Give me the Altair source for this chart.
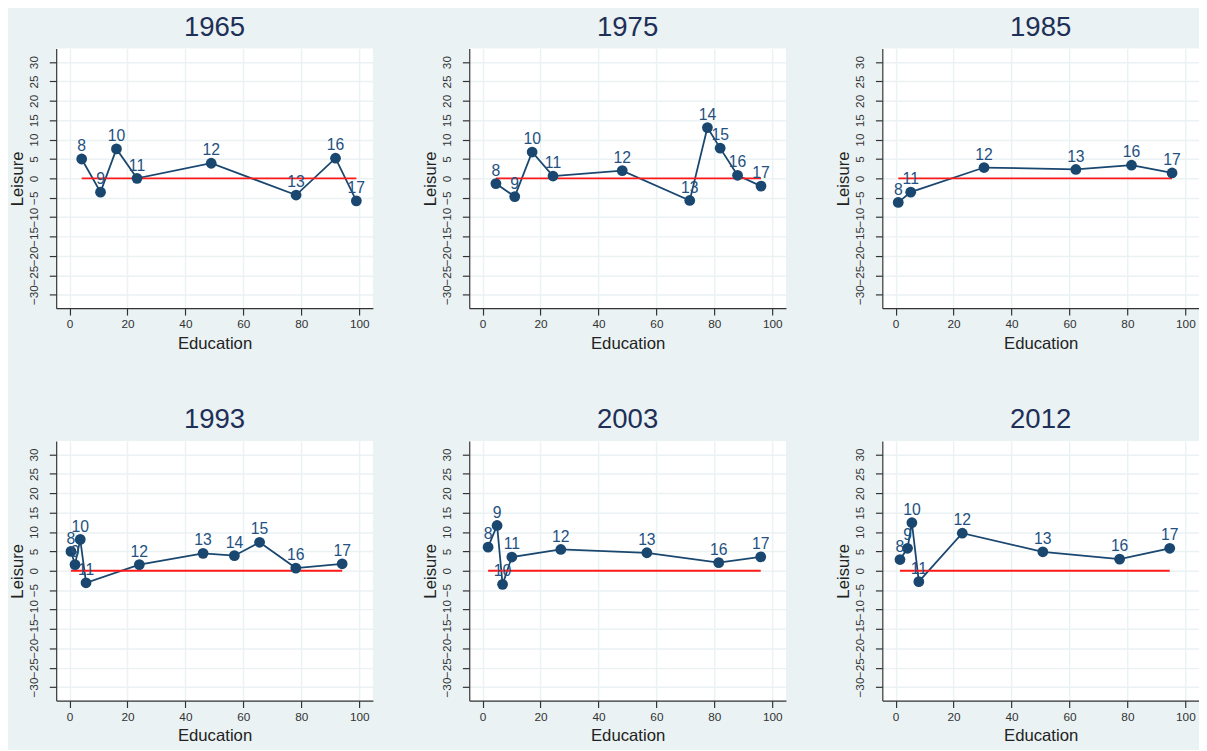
import altair as alt
import pandas as pd

years = ["1965", "1975", "1985", "1993", "2003", "2012"]

grades_1965 = [8, 9, 10, 11, 12, 13, 16, 17]
edu_1965 = [4.2, 10.7, 16.2, 23.3, 48.9, 78.2, 91.8, 99.0]
leis_1965 = [5.0, -3.55, 7.6, 0.0, 3.9, -4.3, 5.2, -5.8]

grades_1975 = [8, 9, 10, 11, 12, 13, 14, 15, 16, 17]
edu_1975 = [4.6, 11.1, 17.1, 24.3, 48.2, 71.5, 77.6, 82.0, 88.0, 96.1]
leis_1975 = [-1.35, -4.7, 6.8, 0.6, 2.0, -5.7, 13.1, 7.8, 0.8, -2.0]

grades_1985 = [8, 11, 12, 13, 16, 17]
edu_1985 = [0.9, 5.2, 30.5, 62.2, 81.4, 95.4]
leis_1985 = [-6.2, -3.55, 2.8, 2.3, 3.4, 1.4]

grades_1993 = [8, 9, 10, 11, 12, 13, 14, 15, 16, 17]
edu_1993 = [0.5, 1.9, 3.7, 5.7, 24.1, 46.1, 56.9, 65.6, 78.1, 94.1]
leis_1993 = [5.0, 1.6, 8.1, -3.1, 1.6, 4.5, 3.9, 7.35, 0.7, 1.8]

grades_2003 = [8, 9, 10, 11, 12, 13, 16, 17]
edu_2003 = [1.9, 5.0, 6.9, 10.1, 27.0, 56.7, 81.5, 96.0]
leis_2003 = [6.1, 11.7, -3.5, 3.55, 5.5, 4.65, 2.1, 3.6]

grades_2012 = [8, 9, 10, 11, 12, 13, 16, 17]
edu_2012 = [1.5, 4.1, 5.6, 8.0, 23.0, 50.8, 77.3, 94.6]
leis_2012 = [2.9, 5.8, 12.4, -2.8, 9.7, 4.9, 3.0, 5.8]

x_ticks = [0, 20, 40, 60, 80, 100]
y_ticks = [-30, -25, -20, -15, -10, -5, 0, 5, 10, 15, 20, 25, 30]

series = {
    "1965": (grades_1965, edu_1965, leis_1965),
    "1975": (grades_1975, edu_1975, leis_1975),
    "1985": (grades_1985, edu_1985, leis_1985),
    "1993": (grades_1993, edu_1993, leis_1993),
    "2003": (grades_2003, edu_2003, leis_2003),
    "2012": (grades_2012, edu_2012, leis_2012),
}

rows = []
for yr in years:
    g, e, l = series[yr]
    for gi, ei, li in zip(g, e, l):
        rows.append({"year": yr, "grade": str(gi), "edu": ei, "leisure": li})
df = pd.DataFrame(rows)

NAVY = "#1A476F"
FONT = "Liberation Sans"

xscale = alt.Scale(domain=[-4.6, 104.7], nice=False, zero=False)
yscale = alt.Scale(domain=[-33.5, 33.5], nice=False, zero=False)

xaxis = alt.Axis(values=x_ticks, title="Education", format="d", labelOverlap=False)
yaxis = alt.Axis(values=y_ticks, title="Leisure", format="d", labelOverlap=False,
                 labelAngle=-90, labelAlign="center", labelBaseline="bottom")

X = alt.X("edu:Q", scale=xscale, axis=xaxis)
Y = alt.Y("leisure:Q", scale=yscale, axis=yaxis)


def panel(yr):
    base = alt.Chart(df).transform_filter(alt.datum.year == yr)
    line = base.mark_line(color=NAVY, strokeWidth=1.8).encode(x=X, y=Y)
    zero = base.transform_aggregate(
        xmin="min(edu)", xmax="max(edu)"
    ).mark_rule(color="#FF1A1A", strokeWidth=2).encode(
        x=alt.X("xmin:Q", scale=xscale, axis=xaxis),
        x2="xmax:Q",
        y=alt.Y(datum=0, scale=yscale, axis=yaxis),
    )
    pts = base.mark_circle(color=NAVY, opacity=1, size=120).encode(x=X, y=Y)
    txt = base.mark_text(color="#24517F", fontSize=16, dy=-8,
                         baseline="alphabetic", font=FONT).encode(
        x=X, y=Y, text="grade:N",
    )
    return alt.layer(line, zero, pts, txt).properties(
        width=322, height=264,
        title=alt.TitleParams(yr, fontSize=28, color="#1E2F58", font=FONT,
                              fontWeight="normal", frame="group", anchor="middle",
                              offset=7),
    )


chart = alt.concat(*[panel(y) for y in years], columns=3,
                   spacing={"row": 56, "column": 49}).properties(
    padding=0, background="#EAF2F3"
).configure_view(
    fill="white", strokeWidth=0
).configure_axis(
    domainColor="#333333", domainWidth=1.2,
    tickColor="#333333", tickSize=7, tickWidth=1.2,
    gridColor="#EAF2F3", gridWidth=1.5,
    labelFont=FONT, labelFontSize=12, labelColor="#333333",
    titleFont=FONT, titleFontSize=17, titleFontWeight="normal", titleColor="#222222",
).configure_axisY(
    labelPadding=9, titlePadding=1,
).configure_axisX(
    labelPadding=4, titlePadding=6,
)

chart.save("out.html", embed_options={"renderer": "svg", "actions": False})
